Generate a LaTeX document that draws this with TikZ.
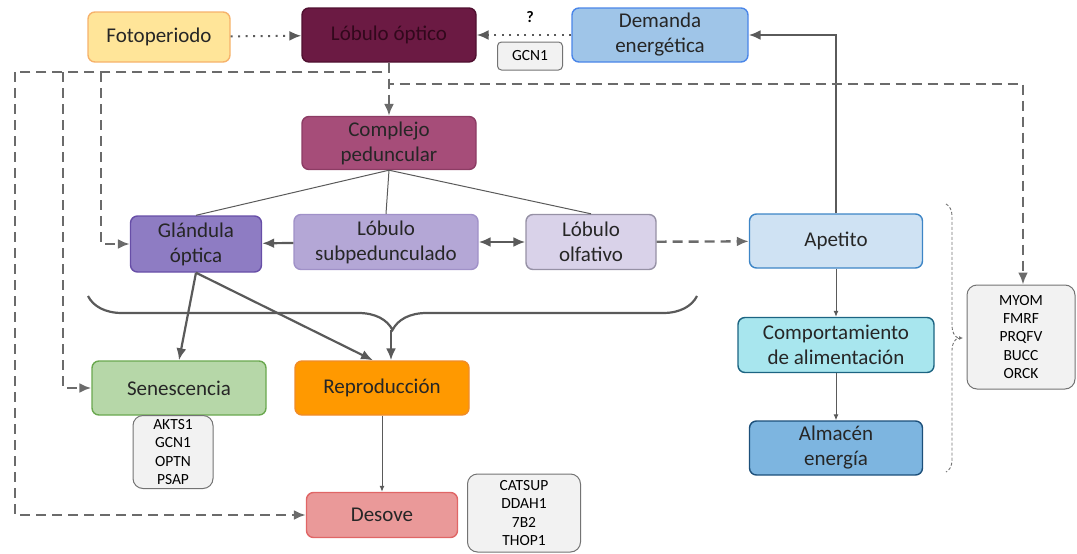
\documentclass[tikz,border=0pt]{standalone}
\usepackage{fontspec}
\setmainfont{Carlito}
\usetikzlibrary{arrows.meta,decorations.pathreplacing}

\definecolor{lineas}{HTML}{5A5A5A}
\definecolor{cajagris}{HTML}{F2F2F2}
\definecolor{fotoF}{HTML}{FFE599}\definecolor{fotoD}{HTML}{F6B26B}
\definecolor{opticoF}{HTML}{6B1A43}\definecolor{opticoD}{HTML}{501030}\definecolor{opticoT}{HTML}{32081C}
\definecolor{demandaF}{HTML}{9FC5E8}\definecolor{demandaD}{HTML}{4A86E8}
\definecolor{complejoF}{HTML}{A64D79}\definecolor{complejoD}{HTML}{8C3C64}
\definecolor{glandulaF}{HTML}{8E7CC3}\definecolor{glandulaD}{HTML}{674EA7}
\definecolor{subpedF}{HTML}{B4A7D6}\definecolor{subpedD}{HTML}{A091C8}
\definecolor{olfativoF}{HTML}{D9D2E9}\definecolor{olfativoD}{HTML}{9691A5}
\definecolor{apetitoF}{HTML}{CFE2F3}\definecolor{apetitoD}{HTML}{3D85C6}
\definecolor{comportF}{HTML}{A8E6EE}\definecolor{comportD}{HTML}{1C6482}
\definecolor{almacenF}{HTML}{7DB5E0}\definecolor{almacenD}{HTML}{1C4F7A}
\definecolor{senescF}{HTML}{B6D7A8}\definecolor{senescD}{HTML}{6AA84F}
\definecolor{reprodF}{HTML}{FF9900}\definecolor{reprodD}{HTML}{F08C28}
\definecolor{desoveF}{HTML}{EA9999}\definecolor{desoveD}{HTML}{E06666}

\tikzset{
  caja/.style={draw, rounded corners=7pt, line width=1.4pt, align=center,
    font=\fontsize{21}{25}\selectfont, text=black!85, inner sep=2pt},
  genes/.style={draw=black!55, fill=cajagris, rounded corners=10pt, line width=1pt,
    align=center, font=\fontsize{15.5}{18.3}\selectfont, inner sep=2pt},
  flecha/.style={draw=lineas, line width=2.2pt, -{Latex[length=12pt,width=10pt]}},
  fina/.style={draw=lineas, line width=1pt, -{Latex[length=6pt,width=5pt]}},
  rama/.style={draw=lineas, line width=1pt},
  punteada/.style={draw=lineas, line width=2pt, dash pattern=on 2pt off 5.5pt,
    -{Latex[length=12pt,width=10pt]}},
  discontinua/.style={draw=lineas!90, line width=2.4pt, dash pattern=on 10pt off 6pt},
}

\begin{document}
\begin{tikzpicture}[x=1pt, y=-1pt]
    \useasboundingbox (0,0) rectangle (1077,554);

    % cajas de arriba
    \node[caja, fill=fotoF, draw=fotoD, minimum width=142pt, minimum height=50pt] (foto) at (159,37) {Fotoperiodo};
    \node[caja, fill=opticoF, draw=opticoD, text=opticoT, minimum width=174pt, minimum height=54pt] (optico) at (389,35) {Lóbulo óptico};
    \node[caja, fill=demandaF, draw=demandaD, minimum width=176pt, minimum height=54pt] (demanda) at (660,35) {Demanda\\energética};
    \node[genes, rounded corners=4pt, minimum width=65pt, minimum height=28pt] (gcn) at (530,56) {GCN1};
    \node[font=\fontsize{16}{18}\selectfont\bfseries] (interr) at (530,17) {?};

    % sistema nervioso
    \node[caja, fill=complejoF, draw=complejoD, minimum width=174pt, minimum height=53pt] (complejo) at (389,143) {Complejo\\peduncular};
    \node[caja, fill=glandulaF, draw=glandulaD, minimum width=131pt, minimum height=56pt] (glandula) at (196,244) {Glándula\\óptica};
    \node[caja, fill=subpedF, draw=subpedD, minimum width=184pt, minimum height=55pt] (subped) at (386,242) {Lóbulo\\subpedunculado};
    \node[caja, fill=olfativoF, draw=olfativoD, minimum width=130pt, minimum height=55pt] (olfativo) at (591,242) {Lóbulo\\olfativo};

    % alimentacion
    \node[caja, fill=apetitoF, draw=apetitoD, minimum width=173pt, minimum height=54pt] (apetito) at (836,241) {Apetito};
    \node[caja, fill=comportF, draw=comportD, minimum width=196pt, minimum height=55pt] (comport) at (836,345) {Comportamiento\\de alimentación};
    \node[caja, fill=almacenF, draw=almacenD, minimum width=173pt, minimum height=54pt] (almacen) at (836,448) {Almacén\\energía};
    \node[genes, minimum width=108pt, minimum height=104pt] (myom) at (1021,337) {MYOM\\FMRF\\PRQFV\\BUCC\\ORCK};

    % reproduccion
    \node[caja, fill=senescF, draw=senescD, minimum width=174pt, minimum height=54pt] (senesc) at (179,388) {Senescencia};
    \node[caja, fill=reprodF, draw=reprodD, minimum width=174pt, minimum height=54pt] (reprod) at (382,388) {Reproducción};
    \node[genes, minimum width=80pt, minimum height=73pt] (akts) at (173,452) {AKTS1\\GCN1\\OPTN\\PSAP};
    \node[caja, fill=desoveF, draw=desoveD, minimum width=151pt, minimum height=45pt] (desove) at (382,515) {Desove};
    \node[genes, minimum width=113pt, minimum height=78pt] (catsup) at (524,513) {CATSUP\\DDAH1\\7B2\\THOP1};

    % puntos de union de las lineas discontinuas
    \coordinate (c1) at (15,72);
    \coordinate (c2) at (63,72);
    \coordinate (c3) at (101,72);
    \coordinate (c4) at (1023,84);

    % entradas al lobulo optico
    \draw[punteada] (foto) -- (optico);
    \draw[punteada] (demanda) -- (optico);
    \draw[flecha] (apetito.north) |- (demanda.east);

    % salidas discontinuas del lobulo optico
    \draw[discontinua] (optico.south) |- (c1);
    \draw[discontinua, -{Latex[length=12pt,width=10pt]}] (c1) |- (desove.west);
    \draw[discontinua, -{Latex[length=12pt,width=10pt]}] (c2) |- (senesc.west);
    \draw[discontinua, -{Latex[length=12pt,width=10pt]}] (c3) |- (glandula.west);
    \draw[discontinua, -{Latex[length=12pt,width=10pt]}] (optico.south) |- (c4) -- (myom.north -| c4);
    \draw[discontinua, -{Latex[length=12pt,width=10pt]}] (optico.south) -- (complejo.north);

    % complejo peduncular
    \draw[rama] (complejo.south) -- (glandula.north);
    \draw[rama] (complejo.south) -- (subped.north);
    \draw[rama] (complejo.south) -- (olfativo.north);
    \draw[flecha] (subped) -- (glandula);
    \draw[flecha, {Latex[length=12pt,width=10pt]}-{Latex[length=12pt,width=10pt]}] (subped) -- (olfativo);
    \draw[discontinua, -{Latex[length=12pt,width=10pt]}] (olfativo) -- (apetito);

    % llave de abajo
    \coordinate (ll) at (88,296);
    \coordinate (lr) at (697,296);
    \coordinate (lt) at (391,330);
    \draw[rama, line width=2.2pt, decorate, decoration={brace, mirror, amplitude=34pt}] (ll) -- (lr);
    \draw[flecha] (lt) -- ([xshift=9pt]reprod.north);
    \draw[flecha] (glandula.south) -- ([xshift=-9pt]reprod.north);
    \draw[flecha] (glandula.south) -- (senesc.north);
    \draw[fina] (reprod) -- (desove);

    % cadena de alimentacion
    \draw[fina] (apetito) -- (comport);
    \draw[fina] (comport) -- (almacen);

    % llave de la derecha
    \coordinate (rt) at (946,204);
    \coordinate (rb) at (946,472);
    \coordinate (rp) at (958,338);
    \draw[rama, draw=black!55, line width=0.9pt, dash pattern=on 3pt off 2pt, decorate,
      decoration={brace, amplitude=12pt}] (rt) -- (rb);
    \draw[draw=black!55, line width=0.8pt, -{Latex[length=4pt,width=4pt]}] (rp) -- ++(5,0);
\end{tikzpicture}
\end{document}
